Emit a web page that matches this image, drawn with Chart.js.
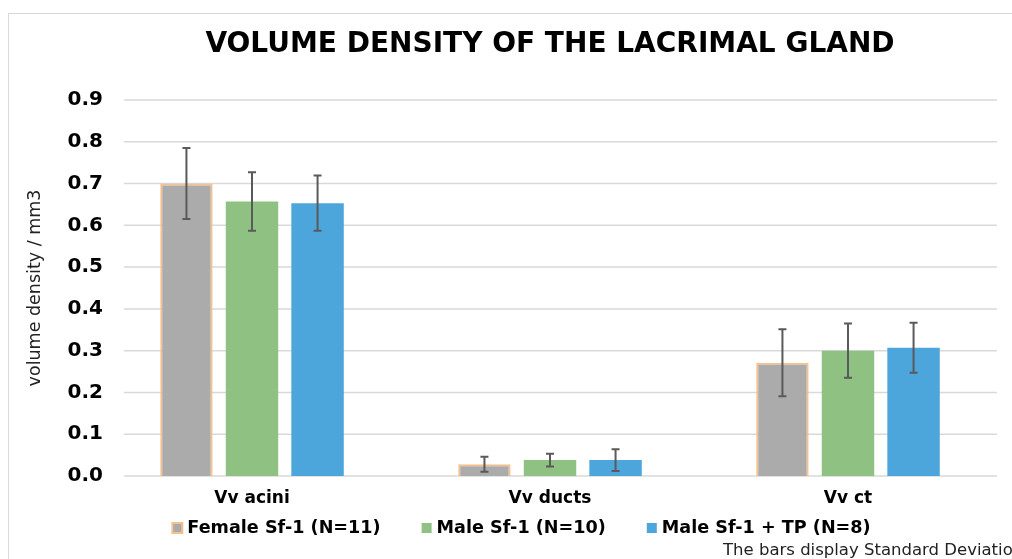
<!DOCTYPE html>
<html>
<head>
<meta charset="utf-8">
<script src="https://cdn.jsdelivr.net/npm/chart.js@4"></script>
<style>
  html, body { margin: 0; padding: 0; background: #fff; overflow: hidden; }
  #wrap { position: relative; width: 1012px; height: 559px; }
  #frame { position: absolute; left: 8px; top: 13px; width: 1100px; height: 700px; border: 1px solid #d9d9d9; }
  canvas { position: absolute; left: 0; top: 0; }
</style>
</head>
<body>
<div id="wrap">
  <div id="frame"></div>
  <canvas id="grafico" width="1012" height="559"></canvas>
</div>
<script>
const categorias = ['Vv acini', 'Vv ducts', 'Vv ct'];
const nomesSeries = ['Female Sf-1 (N=11)', 'Male Sf-1 (N=10)', 'Male Sf-1 + TP (N=8)'];
const femaleMedia = [0.70, 0.028, 0.271];
const femaleDesvio = [0.085, 0.018, 0.080];
const maleMedia = [0.657, 0.038, 0.300];
const maleDesvio = [0.070, 0.015, 0.065];
const tpMedia = [0.653, 0.038, 0.307];
const tpDesvio = [0.066, 0.026, 0.060];
const yTicks = [0, 0.1, 0.2, 0.3, 0.4, 0.5, 0.6, 0.7, 0.8, 0.9];

const FONTE = "'DejaVu Sans', Verdana, sans-serif";
const desvios = [femaleDesvio, maleDesvio, tpDesvio];

// linhas de grade a partir de um pouco depois do eixo
const gradePlugin = {
  id: 'grade',
  beforeDatasetsDraw(chart) {
    const {ctx, chartArea, scales} = chart;
    ctx.save();
    ctx.strokeStyle = '#d9d9d9';
    ctx.lineWidth = 1.5;
    yTicks.forEach((v) => {
      const y = scales.y.getPixelForValue(v);
      ctx.beginPath();
      ctx.moveTo(chartArea.left + 21, y);
      ctx.lineTo(chartArea.right, y);
      ctx.stroke();
    });
    ctx.restore();
  }
};

// barras de erro (desvio padrao)
const erroPlugin = {
  id: 'erro',
  afterDatasetsDraw(chart) {
    const {ctx, scales} = chart;
    ctx.save();
    ctx.strokeStyle = '#5a5a5a';
    ctx.lineWidth = 2;
    chart.data.datasets.forEach((ds, i) => {
      const meta = chart.getDatasetMeta(i);
      meta.data.forEach((bar, j) => {
        const v = ds.data[j];
        const sd = desvios[i][j];
        const yt = scales.y.getPixelForValue(v + sd);
        const yb = scales.y.getPixelForValue(v - sd);
        ctx.beginPath();
        ctx.moveTo(bar.x, yt); ctx.lineTo(bar.x, yb);
        ctx.moveTo(bar.x - 4, yt); ctx.lineTo(bar.x + 4, yt);
        ctx.moveTo(bar.x - 4, yb); ctx.lineTo(bar.x + 4, yb);
        ctx.stroke();
      });
    });
    ctx.restore();
  }
};

// legenda desenhada a mao (espacamento do original)
const legendaPlugin = {
  id: 'legenda',
  afterDraw(chart) {
    const ctx = chart.ctx;
    const dss = chart.data.datasets;
    ctx.save();
    ctx.font = 'bold 17.6px ' + FONTE;
    const larguras = dss.map((d) => ctx.measureText(d.label).width);
    const caixa = 10, gapTexto = 5, gapItem = 41;
    let total = 0;
    larguras.forEach((w, i) => { total += caixa + gapTexto + w + (i < larguras.length - 1 ? gapItem : 0); });
    let x = chart.width / 2 + 15.5 - total / 2;
    const y = 528;
    ctx.textBaseline = 'middle';
    ctx.textAlign = 'left';
    dss.forEach((d, i) => {
      ctx.fillStyle = d.backgroundColor;
      ctx.fillRect(x, y - caixa / 2, caixa, caixa);
      if (d.borderWidth) {
        ctx.strokeStyle = d.borderColor;
        ctx.lineWidth = 2;
        ctx.strokeRect(x, y - caixa / 2, caixa, caixa);
      }
      ctx.fillStyle = '#000';
      ctx.fillText(d.label, x + caixa + gapTexto, y);
      x += caixa + gapTexto + larguras[i] + gapItem;
    });
    ctx.restore();
  }
};

const notaPlugin = {
  id: 'nota',
  afterDraw(chart) {
    const ctx = chart.ctx;
    ctx.save();
    ctx.font = '16.5px ' + FONTE;
    ctx.fillStyle = '#222';
    ctx.textAlign = 'left';
    ctx.textBaseline = 'middle';
    ctx.fillText('The bars display Standard Deviation', 723, 551);
    ctx.restore();
  }
};

new Chart(document.getElementById('grafico'), {
  type: 'bar',
  data: {
    labels: categorias,
    datasets: [
      { label: nomesSeries[0], data: femaleMedia, backgroundColor: '#ababab', borderColor: '#f5c28f', borderWidth: 2 },
      { label: nomesSeries[1], data: maleMedia, backgroundColor: '#8fc183', borderColor: '#8fc183', borderWidth: 0 },
      { label: nomesSeries[2], data: tpMedia, backgroundColor: '#4ca6dc', borderColor: '#4ca6dc', borderWidth: 0 }
    ]
  },
  options: {
    responsive: false,
    animation: false,
    categoryPercentage: 0.66,
    barPercentage: 0.8,
    layout: { padding: { left: 0, right: 15, top: 0, bottom: 38.6 } },
    plugins: {
      title: {
        display: true,
        text: 'VOLUME DENSITY OF THE LACRIMAL GLAND',
        fullSize: false,
        color: '#000',
        font: { family: FONTE, size: 28, weight: 'bold' },
        padding: { top: 28, bottom: 38.4 }
      },
      legend: { display: false },
      tooltip: { enabled: false }
    },
    scales: {
      x: {
        grid: { display: false, drawTicks: false },
        border: { display: false },
        ticks: { color: '#000', padding: 12, font: { family: FONTE, size: 17, weight: 'bold' } }
      },
      y: {
        min: 0,
        max: 0.9,
        grid: { display: false, drawTicks: false },
        border: { display: false },
        ticks: {
          stepSize: 0.1,
          padding: 0,
          color: '#000',
          font: { family: FONTE, size: 20, weight: 'bold' },
          callback: (v) => v.toFixed(1)
        },
        title: {
          display: true,
          text: 'volume density / mm3',
          color: '#222',
          font: { family: FONTE, size: 17.5 },
          padding: { top: 24.5, bottom: 0 }
        },
        afterFit(s) { s.width = 103; }
      }
    }
  },
  plugins: [gradePlugin, erroPlugin, legendaPlugin, notaPlugin]
});
</script>
</body>
</html>
